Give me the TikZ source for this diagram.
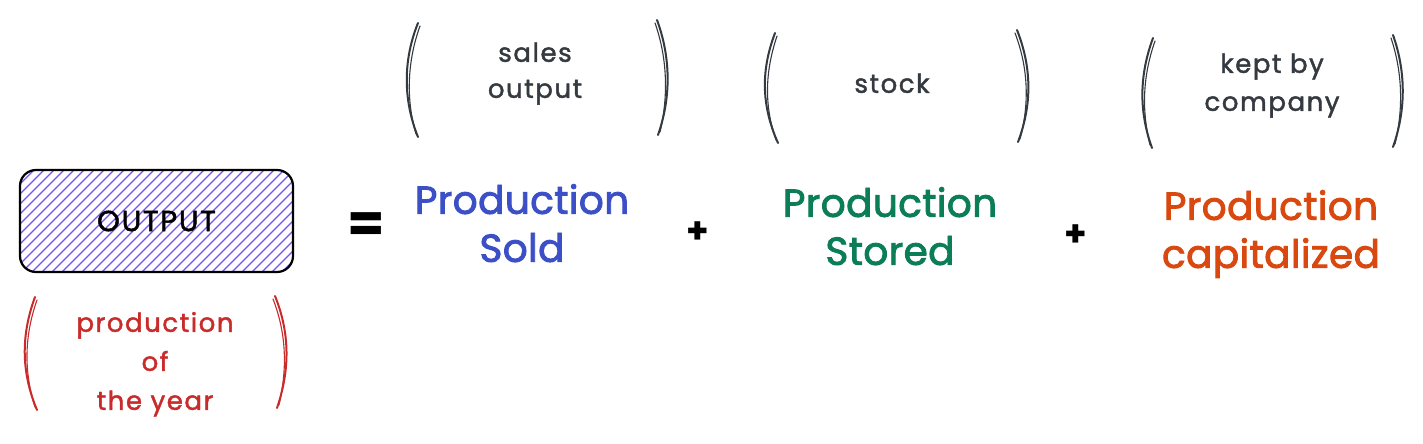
\documentclass[tikz,border=0pt]{standalone}
\usepackage{fontspec}
\setmainfont{Poppins}
\newfontfamily\handsm[LetterSpace=6,FakeBold=1.6]{Poppins}
\newfontfamily\handbig[LetterSpace=1,FakeBold=2.2]{Poppins}
\definecolor{ink}{HTML}{343A40}
\definecolor{blueT}{HTML}{3B4FC6}
\definecolor{greenT}{HTML}{0B7D57}
\definecolor{orangeT}{HTML}{D9480F}
\definecolor{redT}{HTML}{C92A2A}
\definecolor{hatchC}{HTML}{7950F2}
\tikzset{
  br/.style={draw=#1, line width=2pt, line cap=round},
  brthin/.style={draw=#1, line width=1.1pt, line cap=round},
  txt/.style={align=center, inner sep=0pt, text depth=0pt, anchor=south},
  big/.style={font={\handbig\fontsize{39}{48}\selectfont}},
  small/.style={font={\handsm\fontsize{26}{37}\selectfont}},
  hatch/.style={draw=hatchC, line width=1.1pt},
  op/.style={inner sep=0pt, font={\fontsize{36}{36}\selectfont\bfseries}}
}
\begin{document}
\begin{tikzpicture}[x=1pt,y=-1pt]
\useasboundingbox[fill=white] (0,0) rectangle (1423,444);

% hatched OUTPUT box
\begin{scope}
  \clip[rounded corners=16pt] (20,170) rectangle (293,272);
  \foreach \i in {-110,-100,...,300} \draw[hatch] (\i,274) -- ++(106,-106);
\end{scope}
\node[draw=black, line width=2.2pt, rounded corners=16pt, minimum width=273pt, minimum height=102pt,
      font={\handsm\fontsize{29}{30}\selectfont}, text=black] (outbox) at (156.5,221) {OUTPUT};

% equals and plus
\node[op, font={\fontsize{54}{54}\selectfont\bfseries}] (eq) at (366,228) {=};
\node[op] (plus1) at (698,233) {+};
\node[op] (plus2) at (1076,236) {+};

% main terms
\node[txt, big, text=blueT] (sold) at (522,262) {Production\\Sold};
\node[txt, big, text=greenT] (stored) at (890,265) {Production\\Stored};
\node[txt, big, text=orangeT] (capit) at (1271,268) {Production\\capitalized};

% top annotations
\node[txt, small, text=ink, font={\handsm\fontsize{26}{36}\selectfont}] (salesout) at (535,98) {sales\\output};
\node[txt, small, text=ink] (stock) at (892,93) {stock};
\node[txt, small, text=ink, font={\handsm\fontsize{26}{38}\selectfont}] (kept) at (1272,111) {kept by\\company};

% bottom annotation
\node[txt, small, text=redT, font={\handsm\fontsize{26}{39}\selectfont}] (prodyear) at (155,410) {production\\of\\the year};

% brackets: sales output
\draw[br=ink] (418,23) .. controls (403,60) and (403,100) .. (418,137);
\draw[brthin=ink] (420,26) .. controls (407,62) and (406,100) .. (416,134);
\draw[br=ink] (657,20) .. controls (671,58) and (671,98) .. (658,135);
\draw[brthin=ink] (655,23) .. controls (668,60) and (668,98) .. (660,132);

% brackets: stock
\draw[br=ink] (775,33) .. controls (761,70) and (761,105) .. (778,143);
\draw[brthin=ink] (777,36) .. controls (765,72) and (764,105) .. (776,140);
\draw[br=ink] (1017,30) .. controls (1032,68) and (1032,105) .. (1018,142);
\draw[brthin=ink] (1015,33) .. controls (1029,70) and (1029,105) .. (1020,139);

% brackets: kept by company
\draw[br=ink] (1153,38) .. controls (1139,76) and (1139,112) .. (1152,148);
\draw[brthin=ink] (1155,41) .. controls (1142,78) and (1142,112) .. (1150,145);
\draw[br=ink] (1393,35) .. controls (1406,72) and (1406,110) .. (1393,147);
\draw[brthin=ink] (1391,38) .. controls (1403,74) and (1403,110) .. (1395,144);

% brackets: production of the year
\draw[br=redT] (35,297) .. controls (21,335) and (21,372) .. (37,410);
\draw[brthin=redT] (37,300) .. controls (24,337) and (24,372) .. (35,407);
\draw[br=redT] (275,296) .. controls (290,333) and (290,370) .. (277,408);
\draw[brthin=redT] (273,299) .. controls (287,335) and (287,370) .. (279,405);
\end{tikzpicture}
\end{document}
